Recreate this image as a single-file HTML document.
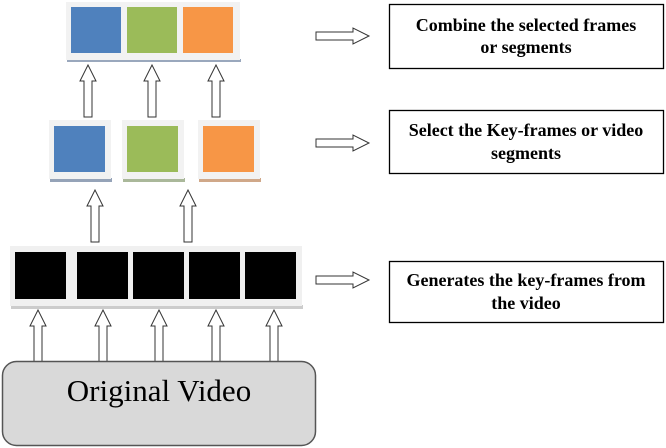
<!DOCTYPE html>
<html><head><meta charset="utf-8"><style>
html,body{margin:0;padding:0;background:#fff;width:666px;height:448px;overflow:hidden}
svg{display:block}
.t{font-family:"Liberation Serif","DejaVu Serif",serif}
.b{font-weight:bold;font-size:18px}
</style></head><body>
<svg width="666" height="448" viewBox="0 0 666 448" xmlns="http://www.w3.org/2000/svg">
<defs>
<path id="up" d="M-4,52 L-4,16 L-8,16 L0,0 L8,16 L4,16 L4,52 Z" fill="#fff" stroke="#333" stroke-width="1"/>
<path id="rt" d="M0,-4 L37,-4 L37,-8 L53,0 L37,8 L37,4 L0,4 Z" fill="#fff" stroke="#333" stroke-width="1"/>
</defs>
<rect x="67" y="59" width="174" height="3" fill="#9aa8bd"/>
<rect x="66" y="2" width="174" height="58" fill="#f2f2f2"/>
<rect x="71" y="7" width="50" height="46" fill="#4f81bd"/>
<rect x="127" y="7" width="50" height="46" fill="#9bbb59"/>
<rect x="183" y="7" width="50" height="46" fill="#f79646"/>
<use href="#up" x="88" y="65"/>
<use href="#up" x="152" y="65"/>
<use href="#up" x="216" y="65"/>
<rect x="50" y="178" width="62" height="4" fill="#95a3b8"/>
<rect x="49" y="120" width="62" height="59" fill="#f2f2f2"/>
<rect x="54" y="126" width="51" height="46" fill="#4f81bd"/>
<rect x="123" y="178" width="62" height="4" fill="#aab89a"/>
<rect x="122" y="120" width="62" height="59" fill="#f2f2f2"/>
<rect x="127" y="126" width="51" height="46" fill="#9bbb59"/>
<rect x="199" y="178" width="62" height="4" fill="#d0a889"/>
<rect x="198" y="120" width="62" height="59" fill="#f2f2f2"/>
<rect x="203" y="126" width="51" height="46" fill="#f79646"/>
<use href="#up" x="95" y="190"/>
<use href="#up" x="188" y="190"/>
<rect x="11" y="305" width="292" height="4" fill="#ccc"/>
<rect x="10" y="246" width="292" height="60" fill="#f0f0f0"/>
<rect x="15" y="252" width="51" height="47" fill="#000"/>
<rect x="77" y="252" width="51" height="47" fill="#000"/>
<rect x="133" y="252" width="51" height="47" fill="#000"/>
<rect x="189" y="252" width="51" height="47" fill="#000"/>
<rect x="245" y="252" width="51" height="47" fill="#000"/>
<use href="#up" x="38" y="310"/>
<use href="#up" x="103" y="310"/>
<use href="#up" x="159" y="310"/>
<use href="#up" x="216" y="310"/>
<use href="#up" x="274" y="310"/>
<rect x="2.5" y="361.5" width="313" height="84" rx="14" fill="#d9d9d9" stroke="#555" stroke-width="1.5"/>
<text class="t" x="159" y="401" font-size="31" text-anchor="middle">Original Video</text>
<use href="#rt" x="316" y="36"/>
<use href="#rt" x="316" y="143"/>
<use href="#rt" x="316" y="280"/>
<rect x="389.5" y="4.5" width="274" height="64" fill="#fff" stroke="#000" stroke-width="1.3"/>
<text class="t b" x="526" y="31" text-anchor="middle">Combine the selected frames</text>
<text class="t b" x="526" y="53" text-anchor="middle">or segments</text>
<rect x="389.5" y="110.5" width="274" height="63" fill="#fff" stroke="#000" stroke-width="1.3"/>
<text class="t b" x="526" y="136" text-anchor="middle">Select the Key-frames or video</text>
<text class="t b" x="526" y="159" text-anchor="middle">segments</text>
<rect x="389.5" y="261.5" width="274" height="61" fill="#fff" stroke="#000" stroke-width="1.3"/>
<text class="t b" x="526" y="286" text-anchor="middle">Generates the key-frames from</text>
<text class="t b" x="526" y="309" text-anchor="middle">the video</text>
</svg>
</body></html>
